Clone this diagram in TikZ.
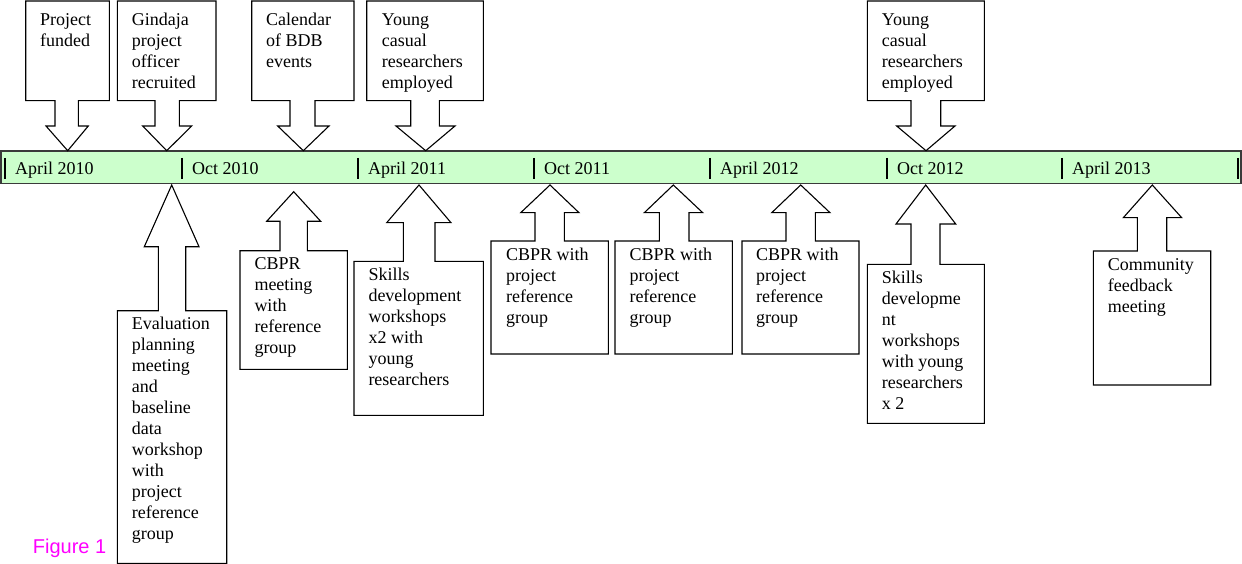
\documentclass[tikz,border=0pt]{standalone}
\usepackage{fontspec}
\setmainfont{Liberation Serif}
\newfontfamily\figsans{Liberation Sans}
\definecolor{barfill}{HTML}{CCFFCC}
\definecolor{barline}{HTML}{3A3A3A}
\definecolor{figmag}{HTML}{FF00FF}
\begin{document}
\begin{tikzpicture}[x=1pt,y=-1pt,
  callout/.style={draw=black,line width=1.1pt,line join=miter,fill=white},
  lbl/.style={anchor=base west,align=left,inner sep=0pt,font=\fontsize{18}{21}\selectfont},
  datelbl/.style={anchor=base west,inner sep=0pt,font=\fontsize{18}{21}\selectfont},
  tick/.style={draw=black,line width=1.1pt}]
\useasboundingbox (0,0) rectangle (1242,564);
% timeline bar
\path[fill=barfill,draw=barline,line width=1.6pt] (1,151) rectangle (1241,183.5);
\foreach \i/\tx/\tl in {0/5/April 2010,1/182/Oct 2010,2/358/April 2011,3/534/Oct 2011,4/710/April 2012,5/887/Oct 2012,6/1062/April 2013}{
  \coordinate (tk\i a) at (\tx,158);
  \coordinate (tk\i b) at (\tx,179);
  \draw[tick] (tk\i a) -- (tk\i b);
  \node[datelbl] (d\i) at (\tx+10,175) {\tl};
}
\coordinate (tk7a) at (1238,158);
\coordinate (tk7b) at (1238,179);
\draw[tick] (tk7a) -- (tk7b);
% top callouts (pointing down)
\draw[callout] (25.7,1) -- (109.3,1) -- (109.3,100.7) -- (78.3,100.7) -- (78.3,126) -- (88.3,126) -- (67.7,150.7) -- (46,126) -- (55,126) -- (55,100.7) -- (25.7,100.7) -- cycle;
\draw[callout] (117.3,1) -- (216,1) -- (216,100.7) -- (179.3,100.7) -- (179.3,126) -- (191.7,126) -- (166.7,150.7) -- (142.7,126) -- (155,126) -- (155,100.7) -- (117.3,100.7) -- cycle;
\draw[callout] (251.7,1) -- (354,1) -- (354,100.7) -- (315,100.7) -- (315,126) -- (329,126) -- (303.3,150.7) -- (277.7,126) -- (290,126) -- (290,100.7) -- (251.7,100.7) -- cycle;
\draw[callout] (366.7,1) -- (483.3,1) -- (483.3,100.7) -- (439.3,100.7) -- (439.3,126) -- (455,126) -- (425.7,150.7) -- (396,126) -- (410.7,126) -- (410.7,100.7) -- (366.7,100.7) -- cycle;
\draw[callout] (867.3,1) -- (984.3,1) -- (984.3,100.7) -- (940.7,100.7) -- (940.7,126) -- (955,126) -- (926,150.7) -- (896.7,126) -- (911,126) -- (911,100.7) -- (867.3,100.7) -- cycle;
% (multi-line nodes: base anchor = baseline of the last line)
\node[lbl] (t1) at (40,46.7) {Project\\funded};
\node[lbl] (t2) at (131.7,88.7) {Gindaja\\project\\officer\\recruited};
\node[lbl] (t3) at (266,67.7) {Calendar\\of BDB\\events};
\node[lbl] (t4) at (381.7,88.7) {Young\\casual\\researchers\\employed};
\node[lbl] (t5) at (881.7,88.7) {Young\\casual\\researchers\\employed};
% bottom callouts (pointing up)
\draw[callout] (117.3,310.7) -- (158.3,310.7) -- (158.3,246.7) -- (144.3,246.7) -- (171.7,185) -- (199,246.7) -- (185.7,246.7) -- (185.7,310.7) -- (226.7,310.7) -- (226.7,563.3) -- (117.3,563.3) -- cycle;
\draw[callout] (240,250.7) -- (280,250.7) -- (280,221.3) -- (266.7,221.3) -- (293.7,191.7) -- (320.7,221.3) -- (307.3,221.3) -- (307.3,250.7) -- (347.3,250.7) -- (347.3,369.3) -- (240,369.3) -- cycle;
\draw[callout] (354,261.3) -- (403.3,261.3) -- (403.3,222.7) -- (386.7,222.7) -- (419,185) -- (451,222.7) -- (435,222.7) -- (435,261.3) -- (483.3,261.3) -- (483.3,415.3) -- (354,415.3) -- cycle;
\draw[callout] (491,241) -- (535,241) -- (535,212.7) -- (520.7,212.7) -- (550,185) -- (579,212.7) -- (564.3,212.7) -- (564.3,241) -- (608.3,241) -- (608.3,354) -- (491,354) -- cycle;
\draw[callout] (615,241) -- (659.3,241) -- (659.3,212.7) -- (644.3,212.7) -- (673.3,185) -- (702.7,212.7) -- (689,212.7) -- (689,241) -- (732.3,241) -- (732.3,354) -- (615,354) -- cycle;
\draw[callout] (742,241) -- (786,241) -- (786,212.7) -- (771.7,212.7) -- (800.7,185) -- (830,212.7) -- (815.3,212.7) -- (815.3,241) -- (859,241) -- (859,354) -- (742,354) -- cycle;
\draw[callout] (867.3,264.3) -- (911,264.3) -- (911,224) -- (896,224) -- (925.7,185) -- (955.7,224) -- (940,224) -- (940,264.3) -- (984.3,264.3) -- (984.3,423.3) -- (867.3,423.3) -- cycle;
\draw[callout] (1093.3,251) -- (1137.3,251) -- (1137.3,217.7) -- (1123.3,217.7) -- (1152.3,185) -- (1181.7,217.7) -- (1166.7,217.7) -- (1166.7,251) -- (1210.7,251) -- (1210.7,385) -- (1093.3,385) -- cycle;
\node[lbl] (b1) at (131.7,539.3) {Evaluation\\planning\\meeting\\and\\baseline\\data\\workshop\\with\\project\\reference\\group};
\node[lbl] (b2) at (254.3,353.3) {CBPR\\meeting\\with\\reference\\group};
\node[lbl] (b3) at (368.3,385) {Skills\\development\\workshops\\x2 with\\young\\researchers};
\node[lbl] (b4) at (506,323.7) {CBPR with\\project\\reference\\group};
\node[lbl] (b5) at (629.3,323.7) {CBPR with\\project\\reference\\group};
\node[lbl] (b6) at (756,323.7) {CBPR with\\project\\reference\\group};
\node[lbl] (b7) at (881.7,409.3) {Skills\\developme\\nt\\workshops\\with young\\researchers\\x 2};
\node[lbl] (b8) at (1107.7,312.7) {Community\\feedback\\meeting};
\node[anchor=base west,inner sep=0pt,text=figmag,font=\figsans\fontsize{20}{24}\selectfont] (fig) at (32.7,553.3) {Figure 1};
\end{tikzpicture}
\end{document}
